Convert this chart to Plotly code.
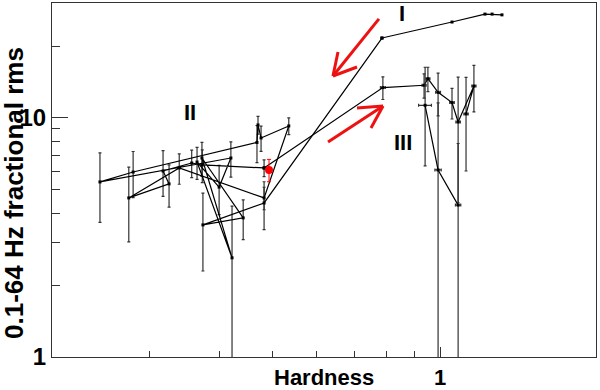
import plotly.graph_objects as go

# track I (soft state -> down to II), no visible error bars
hard_I = [1.293, 1.241, 1.205, 1.051, 0.786]
rms_I = [27.0, 27.2, 27.2, 25.2, 21.6]

# region II, in the order the path is drawn
hard_II = [0.786, 0.482, 0.374, 0.442, 0.3725, 0.422, 0.365, 0.400, 0.420, 0.244, 0.280,
           0.468, 0.470, 0.476, 0.534, 0.482, 0.339, 0.275, 0.325, 0.317, 0.357,
           0.373, 0.482]
rms_II = [21.6, 4.41, 3.57, 3.82, 6.80, 2.60, 6.54, 5.14, 6.80, 5.40, 5.94,
          7.9, 9.35, 8.25, 9.26, 4.63, 6.18, 4.63, 5.30, 6.00, 6.48,
          6.36, 6.18]
err_II = [0, 1.0, 1.28, 0.72, 1.1, 1.68, 1.0, 1.2, 1.14, 1.74, 1.3,
          1.4, 0.8, 1.0, 0.75, 0.5, 0.9, 1.6, 1.06, 1.3, 0.85,
          1.0, 0.5]

# region III
hard_III = [0.482, 0.789, 0.936, 0.951, 0.992, 1.051, 1.078, 1.151, 1.114]
rms_III = [6.18, 13.4, 13.7, 14.6, 12.8, 11.6, 9.62, 13.6, 10.4]
err_III = [0, 1.45, 1.6, 1.7, 2.6, 1.7, 5.2, 3.0, 4.4]
xerr_III = [0, 0.008, 0.008, 0.008, 0.01, 0.01, 0.01, 0.01, 0.01]

hard_IIIb = [0.940, 0.992, 1.078]
rms_IIIb = [11.3, 6.06, 4.32]
err_IIIb = [5.0, 5.5, 3.5]
xerr_IIIb = [0.025, 0.013, 0.012]

# highlighted observation
hard_red = [0.492]
rms_red = [6.06]
err_red = [0.65]

fig = go.Figure()

line = dict(color="black", width=1.2)
mk = dict(color="black", size=3, symbol="square")
ebar = dict(color="#333", thickness=1.2, width=1.5)

fig.add_trace(go.Scatter(x=hard_I, y=rms_I, mode="lines+markers", line=line, marker=mk))
fig.add_trace(go.Scatter(
    x=hard_II, y=rms_II, mode="lines+markers", line=line, marker=mk,
    error_y=dict(type="data", array=err_II, **ebar)))
fig.add_trace(go.Scatter(
    x=hard_III, y=rms_III, mode="lines+markers", line=line, marker=mk,
    error_y=dict(type="data", array=err_III, **ebar),
    error_x=dict(type="data", array=xerr_III, **ebar)))
fig.add_trace(go.Scatter(
    x=hard_IIIb, y=rms_IIIb, mode="lines+markers", line=line, marker=mk,
    error_y=dict(type="data", array=err_IIIb, **ebar),
    error_x=dict(type="data", array=xerr_IIIb, **ebar)))
fig.add_trace(go.Scatter(
    x=hard_red, y=rms_red, mode="markers",
    marker=dict(color="red", size=8),
    error_y=dict(type="data", array=err_red, color="red", thickness=1, width=2)))

# red arrows drawn as open V arrows
red = dict(color="#ee1111", width=3)
arrows = [
    (0.601, 0.955, 0.5165, 0.7938), (0.5165, 0.7938, 0.5257, 0.8616), (0.5165, 0.7938, 0.5607, 0.8192),
    (0.5074, 0.6073, 0.6085, 0.7090), (0.6085, 0.7090, 0.5607, 0.7034), (0.6085, 0.7090, 0.5864, 0.6469),
]
for x0, y0, x1, y1 in arrows:
    fig.add_shape(type="line", xref="paper", yref="paper", x0=x0, y0=y0, x1=x1, y1=y1, line=red)

bold = dict(family="Liberation Sans", size=22, color="black", weight="bold")
for txt, xp, yp in [("I", 0.643, 0.969), ("II", 0.2537, 0.692), ("III", 0.645, 0.607)]:
    fig.add_annotation(text=txt, x=xp, y=yp, xref="paper", yref="paper", showarrow=False,
                       xanchor="center", yanchor="middle", font=bold)

fig.add_annotation(text="0.1-64 Hz fractional rms", textangle=-90, x=-0.07, y=0.463,
                   xref="paper", yref="paper", showarrow=False,
                   xanchor="center", yanchor="middle",
                   font=dict(family="Liberation Sans", size=26, color="black", weight="bold"))
fig.add_annotation(text="Hardness", x=0.5, y=-0.057, xref="paper", yref="paper",
                   showarrow=False, xanchor="center", yanchor="middle",
                   font=dict(family="Liberation Sans", size=22, color="black", weight="bold"))

fig.update_xaxes(
    type="log", range=[-0.699, 0.281], automargin=False,
    tickvals=[1], ticktext=["1"], ticks="inside", ticklen=10, tickcolor="#333",
    minor=dict(tickvals=[0.3, 0.4, 0.5, 0.6, 0.7, 0.8, 0.9], ticks="inside", ticklen=6,
               tickcolor="#333", showgrid=False),
    showgrid=False, zeroline=False, showline=True, linecolor="#333", mirror=True,
    tickfont=bold, ticklabelstandoff=1,
)
fig.update_yaxes(
    type="log", range=[0, 1.481], automargin=False,
    tickvals=[1, 10], ticktext=["1", "10"], ticks="inside", ticklen=16, tickcolor="#333",
    minor=dict(tickvals=[2, 3, 4, 5, 6, 7, 8, 9, 20], ticks="inside", ticklen=8,
               tickcolor="#333", showgrid=False),
    showgrid=False, zeroline=False, showline=True, linecolor="#333", mirror=True,
    tickfont=dict(family="Liberation Sans", size=24, color="black", weight="bold"),
)
fig.update_layout(
    width=600, height=390, showlegend=False,
    margin=dict(l=52, r=4, t=3, b=33),
    plot_bgcolor="white", paper_bgcolor="white",
)

# drop the default page margin so the figure sits at the window's corner
fig.write_html("out.html", config={"displayModeBar": False},
               post_script="document.body.style.margin='0';")
